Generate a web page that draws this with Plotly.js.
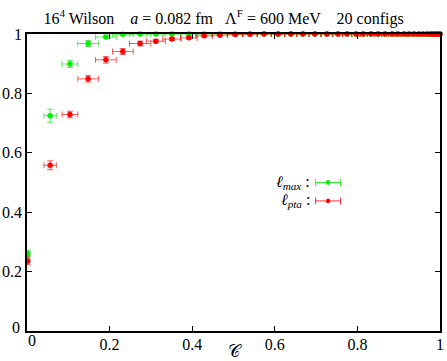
<!DOCTYPE html>
<html>
<head>
<meta charset="utf-8">
<script src="https://cdn.plot.ly/plotly-3.0.1.min.js"></script>
<style>
  body { margin: 0; background: #fff; }
  #plot { width: 447px; height: 361px; }
</style>
</head>
<body>
<div id="plot"></div>
<script>
// C values (shared by both estimators)
const cVals = [0.002, 0.056, 0.104, 0.148, 0.191, 0.232, 0.274, 0.312, 0.351, 0.392,
  0.429, 0.467, 0.504, 0.540, 0.574, 0.608, 0.639, 0.668, 0.697, 0.726,
  0.753, 0.775, 0.797, 0.814, 0.833, 0.850, 0.867, 0.884, 0.898, 0.913,
  0.925, 0.937, 0.949, 0.959, 0.969, 0.977, 0.984, 0.990, 0.995, 1.0];
const cErr = [0.003, 0.015, 0.019, 0.025, 0.025, 0.025, 0.026, 0.023, 0.022, 0.020,
  0.020, 0.019, 0.019, 0.018, 0.017, 0.016, 0.015, 0.015, 0.014, 0.013,
  0.012, 0.011, 0.010, 0.010, 0.009, 0.009, 0.008, 0.008, 0.007, 0.007,
  0.006, 0.006, 0.005, 0.005, 0.004, 0.004, 0.003, 0.003, 0.002, 0.002];

// l_max
const maxY = [0.260, 0.725, 0.899, 0.968, 0.990, 0.999, 1, 1, 1, 1,
  1, 1, 1, 1, 1, 1, 1, 1, 1, 1,
  1, 1, 1, 1, 1, 1, 1, 1, 1, 1,
  1, 1, 1, 1, 1, 1, 1, 1, 1, 1];
const maxErr = [0.011, 0.022, 0.012, 0.010, 0.006, 0.003, 0.002, 0.001, 0.001, 0.001,
  0.001, 0.001, 0.001, 0.001, 0.001, 0.001, 0.001, 0.001, 0.001, 0.001,
  0.001, 0.001, 0.001, 0.001, 0.001, 0.001, 0.001, 0.001, 0.001, 0.001,
  0.001, 0.001, 0.001, 0.001, 0.001, 0.001, 0.001, 0.001, 0.001, 0.001];

// l_pta
const ptaY = [0.236, 0.558, 0.729, 0.849, 0.913, 0.941, 0.968, 0.976, 0.983, 0.987,
  0.994, 0.996, 0.998, 0.999, 1, 1, 1, 1, 1, 1,
  1, 1, 1, 1, 1, 1, 1, 1, 1, 1,
  1, 1, 1, 1, 1, 1, 1, 1, 1, 1];
const ptaErr = [0.013, 0.015, 0.011, 0.011, 0.011, 0.010, 0.008, 0.006, 0.005, 0.004,
  0.003, 0.002, 0.002, 0.001, 0.001, 0.001, 0.001, 0.001, 0.001, 0.001,
  0.001, 0.001, 0.001, 0.001, 0.001, 0.001, 0.001, 0.001, 0.001, 0.001,
  0.001, 0.001, 0.001, 0.001, 0.001, 0.001, 0.001, 0.001, 0.001, 0.001];

const serif = 'Liberation Serif, DejaVu Serif, serif';

function series(y, yerr, color, barColor) {
  return {
    x: cVals, y: y,
    mode: 'markers', type: 'scatter', cliponaxis: false, showlegend: false,
    marker: { color: color, size: 5.5 },
    error_x: { type: 'data', array: cErr, color: barColor, thickness: 1, width: 3 },
    error_y: { type: 'data', array: yerr, color: barColor, thickness: 1, width: 3 }
  };
}

const traceMax = series(maxY, maxErr, '#00ee00', 'rgba(0,230,0,0.65)');
const tracePta = series(ptaY, ptaErr, '#ff0000', 'rgba(255,0,0,0.65)');

const axis = {
  range: [0, 1], showgrid: false, zeroline: false, showline: true, mirror: 'ticks',
  linecolor: '#000', linewidth: 1.5, ticks: 'inside', ticklen: 5, tickcolor: '#000',
  tickfont: { family: serif, size: 16, color: '#000' }
};

// legend samples (decoration only)
const legY = [0.5, 0.438];
const shapes = [];
[[legY[0], 'rgba(0,230,0,0.8)', '#00ee00'], [legY[1], 'rgba(255,0,0,0.8)', '#ff0000']].forEach(([yy, bc, mc]) => {
  shapes.push({ type: 'line', xref: 'paper', yref: 'paper', x0: 0.699, x1: 0.759, y0: yy, y1: yy, line: { color: bc, width: 1 } });
  shapes.push({ type: 'line', xref: 'paper', yref: 'paper', x0: 0.699, x1: 0.699, y0: yy - 0.012, y1: yy + 0.012, line: { color: bc, width: 1 } });
  shapes.push({ type: 'line', xref: 'paper', yref: 'paper', x0: 0.759, x1: 0.759, y0: yy - 0.012, y1: yy + 0.012, line: { color: bc, width: 1 } });
  shapes.push({ type: 'circle', xref: 'paper', yref: 'paper', x0: 0.724, x1: 0.734, y0: yy - 0.008, y1: yy + 0.008, fillcolor: mc, line: { color: mc, width: 0 } });
});

Plotly.newPlot('plot', [traceMax, tracePta], {
  width: 447, height: 361,
  margin: { l: 27, r: 7, t: 34, b: 30 },
  paper_bgcolor: '#fff', plot_bgcolor: '#fff',
  font: { family: serif, color: '#000' },
  title: {
    text: '16<sup>4</sup> Wilson    <i>a</i> = 0.082 fm   Λ<sup>F</sup> = 600 MeV    20 configs',
    font: { family: serif, size: 16, color: '#000' }, x: 0.5, xanchor: 'center', y: 0.965
  },
  xaxis: Object.assign({}, axis, {
    tickvals: [0.2, 0.4, 0.6, 0.8, 1], ticktext: ['0.2', '0.4', '0.6', '0.8', '1'],
    ticklabelstandoff: -2,
    title: { text: '𝒞', font: { family: serif, size: 17 }, standoff: 0 }
  }),
  yaxis: Object.assign({}, axis, {
    tickvals: [0.2, 0.4, 0.6, 0.8, 1], ticktext: ['0.2', '0.4', '0.6', '0.8', '1']
  }),
  shapes: shapes,
  annotations: [
    { xref: 'paper', yref: 'paper', x: 0.69, y: legY[0], xanchor: 'right', yanchor: 'middle', showarrow: false,
      text: '<i>ℓ<sub>max</sub></i> :', font: { family: serif, size: 16 } },
    { xref: 'paper', yref: 'paper', x: 0.69, y: legY[1], xanchor: 'right', yanchor: 'middle', showarrow: false,
      text: '<i>ℓ<sub>pta</sub></i> :', font: { family: serif, size: 16 } },
    { xref: 'paper', yref: 'paper', x: 0, y: 0, xanchor: 'right', yanchor: 'middle', xshift: -5, yshift: 4, showarrow: false,
      text: '0', font: { family: serif, size: 16 } },
    { xref: 'paper', yref: 'paper', x: 0, y: 0, xanchor: 'left', yanchor: 'top', xshift: -1, yshift: 1, showarrow: false,
      text: '0', font: { family: serif, size: 16 } }
  ]
}, { displayModeBar: false });
</script>
</body>
</html>
